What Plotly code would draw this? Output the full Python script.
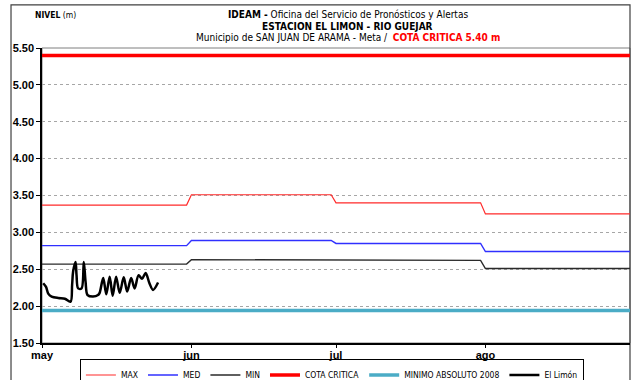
import plotly.graph_objects as go

# Monthly reference levels (m) for the station, May to August
month_start = ["2010-05-01", "2010-06-01", "2010-07-01", "2010-08-01"]
month_end = ["2010-05-31", "2010-06-30", "2010-07-31", "2010-08-31"]
level_max = [3.37, 3.51, 3.40, 3.25]
level_med = [2.82, 2.89, 2.85, 2.74]
level_min = [2.57, 2.63, 2.62, 2.51]

cota_critica = 5.40
minimo_absoluto_2008 = 1.94

# Observed levels at El Limón
limon_time = [
    "2010-05-01 06:00", "2010-05-01 20:00", "2010-05-02 07:00", "2010-05-03 00:00",
    "2010-05-04 09:00", "2010-05-05 18:00", "2010-05-06 22:00", "2010-05-07 06:00",
    "2010-05-07 11:00", "2010-05-07 23:00", "2010-05-08 04:00", "2010-05-08 12:00",
    "2010-05-09 05:00", "2010-05-09 16:00", "2010-05-10 01:00", "2010-05-10 11:00",
    "2010-05-11 14:00", "2010-05-12 15:00", "2010-05-12 23:00", "2010-05-13 17:00",
    "2010-05-14 08:00", "2010-05-15 01:00", "2010-05-15 16:00", "2010-05-16 09:00",
    "2010-05-17 03:00", "2010-05-17 23:00", "2010-05-18 16:00", "2010-05-19 12:00",
    "2010-05-20 05:00", "2010-05-21 01:00", "2010-05-21 18:00", "2010-05-22 12:00",
    "2010-05-23 07:00", "2010-05-24 01:00", "2010-05-25 02:00",
]
limon_level = [
    2.31, 2.26, 2.17, 2.13,
    2.11, 2.10, 2.06, 2.29,
    2.47, 2.60, 2.42, 2.24,
    2.24, 2.60, 2.33, 2.15,
    2.13, 2.15, 2.18, 2.38,
    2.16, 2.40, 2.14, 2.40,
    2.18, 2.39, 2.20, 2.38,
    2.24, 2.42, 2.37, 2.45,
    2.31, 2.22, 2.32,
]

month_ticks = ["2010-05-01", "2010-06-01", "2010-07-01", "2010-08-01"]
month_labels = ["may", "jun", "jul", "ago"]
y_ticks = [1.5, 2.0, 2.5, 3.0, 3.5, 4.0, 4.5, 5.0, 5.5]

NARROW = "DejaVu Sans Condensed, Liberation Sans Narrow, Arial Narrow, sans-serif"
ARIAL = "Liberation Sans, Arial, sans-serif"


def monthly_steps(values):
    xs, ys = [], []
    for start, end, v in zip(month_start, month_end, values):
        xs += [start, end]
        ys += [v, v]
    return xs, ys


fig = go.Figure()

for name, vals, color, width in [
    ("MAX", level_max, "#FF2A2A", 1.2),
    ("MED", level_med, "#3030FF", 1.4),
    ("MIN", level_min, "#2A2A2A", 1.4),
]:
    xs, ys = monthly_steps(vals)
    fig.add_trace(go.Scatter(x=xs, y=ys, mode="lines", name=name,
                             line=dict(color=color, width=width)))

fig.add_trace(go.Scatter(x=[month_start[0], month_end[-1]], y=[cota_critica] * 2,
                         mode="lines", name="COTA CRITICA",
                         line=dict(color="#FF0000", width=3.5)))
fig.add_trace(go.Scatter(x=[month_start[0], month_end[-1]], y=[minimo_absoluto_2008] * 2,
                         mode="lines", name="MINIMO ABSOLUTO 2008",
                         line=dict(color="#4BACC6", width=3.5)))
fig.add_trace(go.Scatter(x=limon_time, y=limon_level, mode="lines", name="El Limón",
                         line=dict(color="#000000", width=2.5, shape="spline", smoothing=0.9)))

fig.update_xaxes(
    type="date",
    range=[month_start[0], month_end[-1]],
    tickvals=month_ticks, ticktext=month_labels,
    ticks="outside", ticklen=3, tickcolor="#000000",
    ticklabelstandoff=-2,
    showgrid=False, zeroline=False,
    showline=True, linecolor="#000000", linewidth=1.5,
    tickfont=dict(family=ARIAL, size=11, color="#000000", weight="bold"),
    automargin=False,
)
fig.update_yaxes(
    range=[1.5, 5.5],
    tickvals=y_ticks, tickformat=".2f",
    ticks="outside", ticklen=4, tickcolor="#000000",
    showgrid=True, gridcolor="#A6A6A6", griddash="dot", gridwidth=1,
    zeroline=False,
    showline=True, linecolor="#000000", linewidth=1.5,
    tickfont=dict(family=ARIAL, size=11, color="#000000", weight="bold"),
    automargin=False,
)

fig.update_layout(
    width=631, height=380,
    margin=dict(l=42, r=1, t=48, b=37, autoexpand=False),
    paper_bgcolor="#FFFFFF", plot_bgcolor="#FFFFFF",
    showlegend=True,
    legend=dict(
        orientation="h",
        xref="container", x=0.526, xanchor="center",
        yref="container", y=0.054, yanchor="top",
        bordercolor="#000000", borderwidth=1, bgcolor="rgba(255,255,255,0)",
        font=dict(family=NARROW, size=8.5, color="#000000"),
        traceorder="normal",
        tracegroupgap=0,
    ),
    shapes=[
        # plot-area border
        dict(type="rect", xref="paper", yref="paper", x0=0, x1=1, y0=0, y1=1,
             line=dict(color="#7F7F7F", width=1), layer="below"),
        # chart-area frame
        dict(type="rect", xref="paper", yref="paper", x0=-0.0527, x1=1.0, y0=-0.14, y1=1.146,
             line=dict(color="#404040", width=1.2), layer="below"),
    ],
    annotations=[
        dict(xref="paper", yref="paper", x=-0.015, y=1.112, xanchor="left", yanchor="middle",
             showarrow=False, text="<b>NIVEL</b> (m)",
             font=dict(family=NARROW, size=8.5, color="#000000")),
        dict(xref="paper", yref="paper", x=0.52, y=1.113, xanchor="center", yanchor="middle",
             showarrow=False, text="<b>IDEAM -</b> Oficina del Servicio de Pronósticos y Alertas",
             font=dict(family=NARROW, size=10, color="#000000")),
        dict(xref="paper", yref="paper", x=0.52, y=1.074, xanchor="center", yanchor="middle",
             showarrow=False, text="<b>ESTACION EL LIMON - RIO GUEJAR</b>",
             font=dict(family=NARROW, size=10, color="#000000")),
        dict(xref="paper", yref="paper", x=0.52, y=1.035, xanchor="center", yanchor="middle",
             showarrow=False,
             text="Municipio de SAN JUAN DE ARAMA - Meta /  "
                  "<span style='color:#FF0000'><b>COTA CRITICA 5.40 m</b></span>",
             font=dict(family=NARROW, size=10, color="#000000")),
    ],
)

fig.write_html("out.html")
